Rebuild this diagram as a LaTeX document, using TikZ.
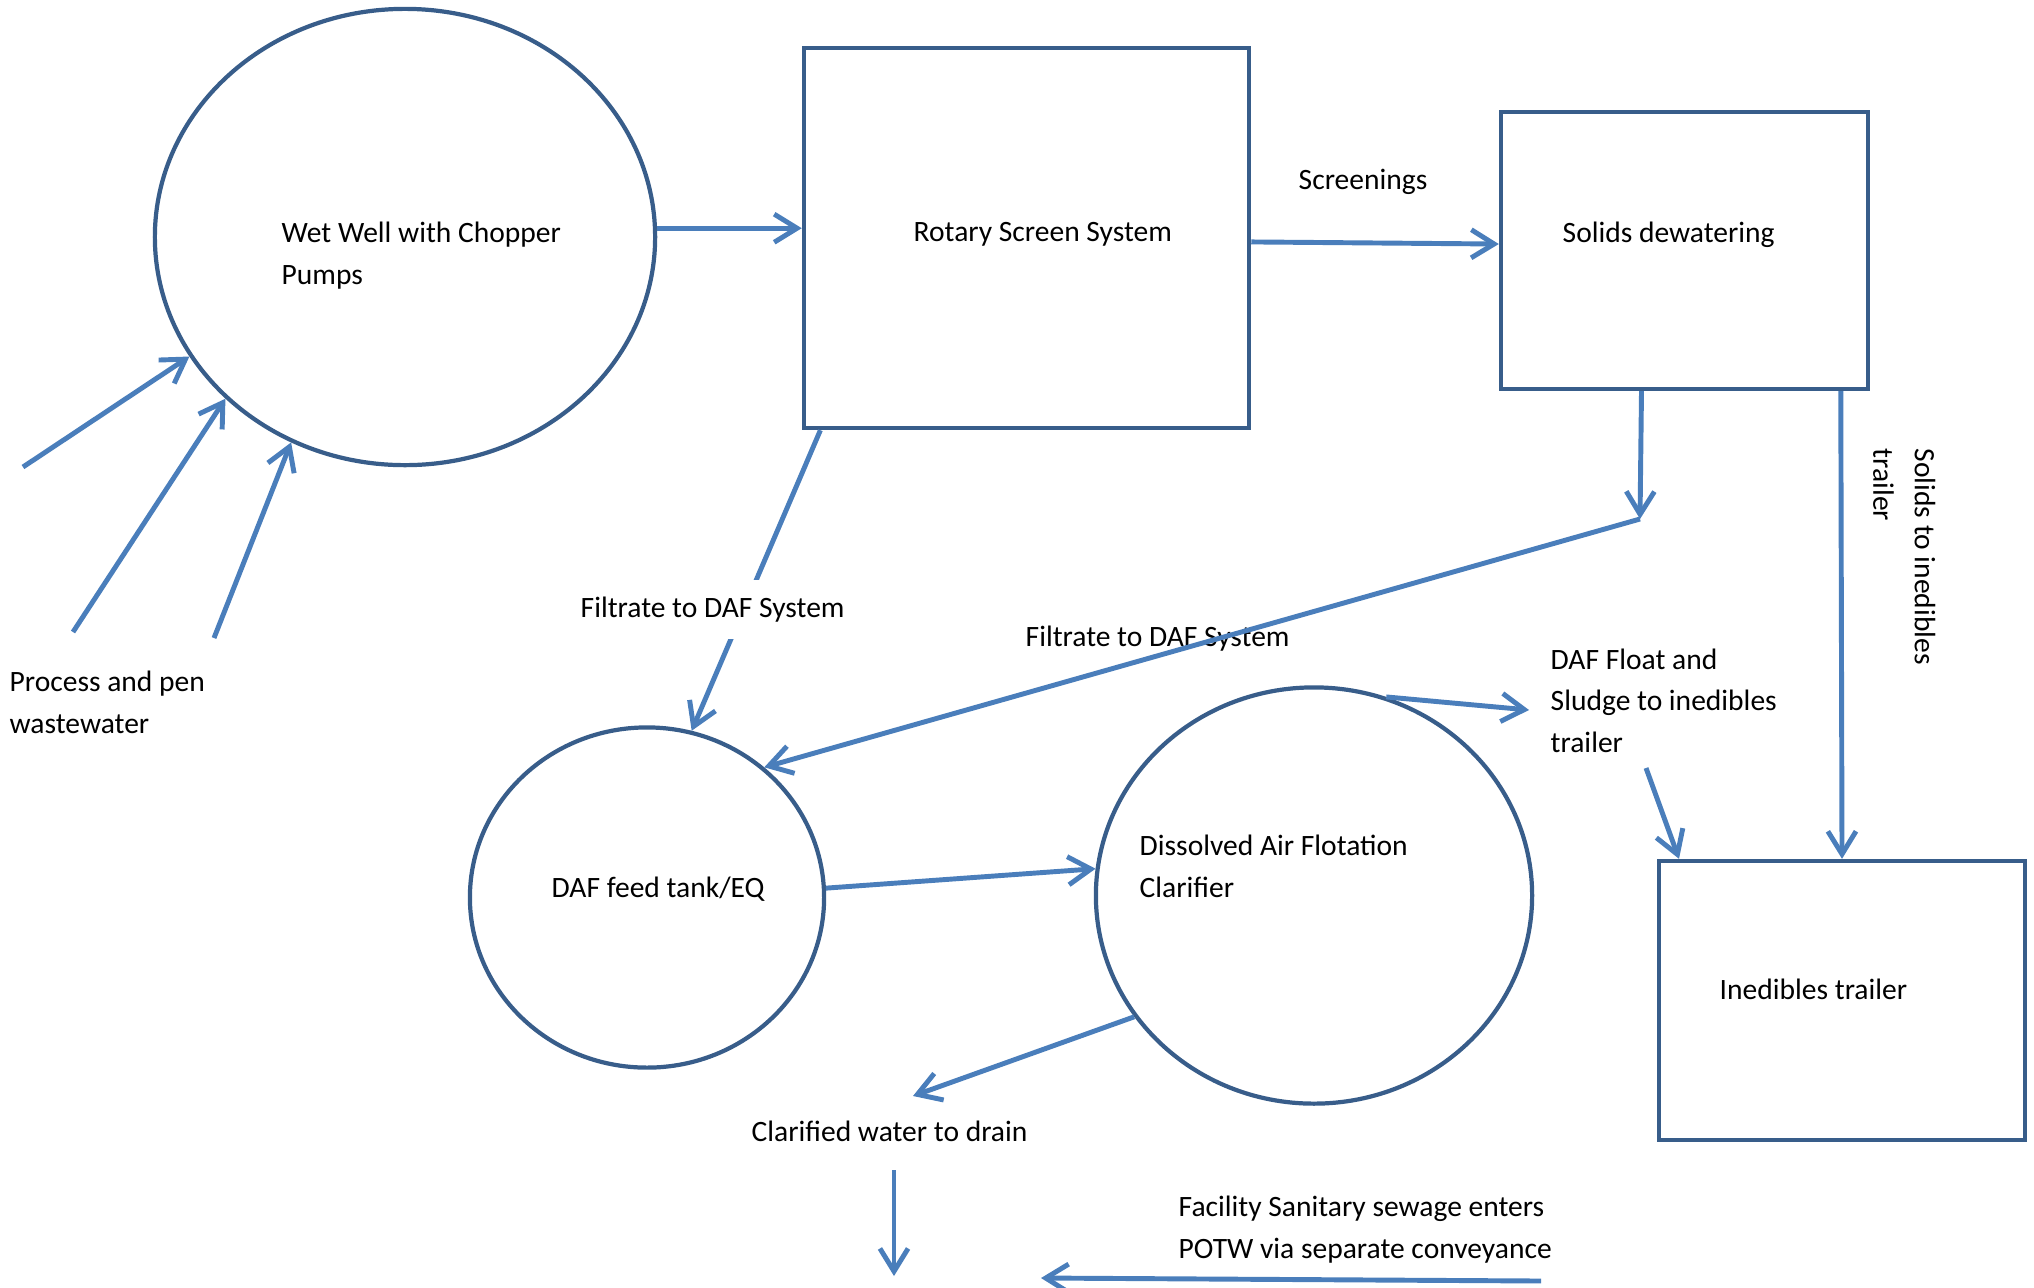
\documentclass[tikz,border=0pt]{standalone}
\usepackage{fontspec}
\setmainfont{Carlito}
\usetikzlibrary{shapes.geometric,arrows.meta}
\definecolor{outline}{HTML}{385D8A}
\definecolor{flowblue}{HTML}{4A7EBB}
\tikzset{
  unit/.style={draw=outline, line width=1.2pt, inner sep=0pt},
  tankbox/.style={unit, rectangle},
  vessel/.style={unit, ellipse},
  flow/.style={draw=flowblue, line width=1.4pt, -{Straight Barb[length=6.5pt,width=8pt]}},
  lbl/.style={inner sep=0pt, align=left, font=\fontsize{8.4}{11.8}\selectfont},
}

\begin{document}
\begin{tikzpicture}[x=0.01cm,y=-0.01cm]
\useasboundingbox (0,0) rectangle (2034,1287);
% process units
\node[vessel, minimum width=5cm, minimum height=4.56cm] (wetwell) at (405,237) {};
\node[tankbox, minimum width=4.45cm, minimum height=3.8cm] (rotary) at (1026.5,238) {};
\node[tankbox, minimum width=3.67cm, minimum height=2.77cm] (solids) at (1684.5,250.5) {};
\node[vessel, minimum width=3.54cm, minimum height=3.4cm] (tank) at (647,897.5) {};
\node[vessel, minimum width=4.36cm, minimum height=4.16cm] (daf) at (1314,895.5) {};
\node[tankbox, minimum width=3.66cm, minimum height=2.79cm] (trailer) at (1842,1000.5) {};
% labels (base = last line)
\node[lbl, anchor=base west] (wetlbl) at (281,284) {Wet Well with Chopper\\Pumps};
\node[lbl, anchor=base west] (rotarylbl) at (913,241) {Rotary Screen System};
\node[lbl, anchor=base west] (screenlbl) at (1298,189) {Screenings};
\node[lbl, anchor=base west] (solidsdw) at (1562,242) {Solids dewatering};
\node[lbl, rotate=-90, anchor=north west] (solidslbl) at (1936,448) {Solids to inedibles\\trailer};
\node[lbl, anchor=base west] (processlbl) at (9,733) {Process and pen\\wastewater};
\node[lbl, anchor=base west] (filtrate2) at (1025,646) {Filtrate to DAF System};
\node[lbl, anchor=base west] (floatlbl) at (1550,752) {DAF Float and\\Sludge to inedibles\\trailer};
\node[lbl, anchor=base west] (tanklbl) at (551,897) {DAF feed tank/EQ};
\node[lbl, anchor=base west] (daflbl) at (1139,897) {Dissolved Air Flotation\\Clarifier};
\node[lbl, anchor=base west] (trailerlbl) at (1719,999) {Inedibles trailer};
\node[lbl, anchor=base west] (clarlbl) at (751,1141) {Clarified water to drain};
\node[lbl, anchor=base west] (sewlbl) at (1178,1258) {Facility Sanitary sewage enters\\POTW via separate conveyance};
% flows
\coordinate (p1) at (23,467);
\coordinate (p2) at (73,632);
\coordinate (p3) at (214,638);
\draw[flow] (p1) -- (wetwell.209);
\draw[flow] (p2) -- (wetwell.222);
\draw[flow] (p3) -- (wetwell.241);
\draw[flow] (wetwell.2) -- (wetwell.2 -| rotary.west);
\draw[flow] (rotary.-1) -- (solids.178);
\draw[flow] (rotary.223) -- (tank.75);
\node[lbl, fill=white, inner ysep=4.8pt, anchor=base west] (filtrate1) at (580,617) {Filtrate to DAF System};
\coordinate (split) at (1640,519);
\draw[flow] (solids.253) -- (split);
\draw[flow] (split) -- (tank.48);
\draw[flow] (solids.318) -- (trailer.90);
\draw[flow] (daf.70) -- ([shift={(-21,-42)}]floatlbl.base west);
\draw[flow] ([shift={(96,16)}]floatlbl.base west) -- (trailer.139);
\draw[flow] (tank.3) -- (daf.173);
\draw[flow] (daf.214) -- ([shift={(162,-45)}]clarlbl.base west);
\coordinate (drain) at (894,1276);
\draw[flow] ([shift={(143,29)}]clarlbl.base west) -- (drain);
\coordinate (potw) at (1041,1278);
\draw[flow] ([shift={(363,23)}]sewlbl.base west) -- (potw);
\end{tikzpicture}
\end{document}
